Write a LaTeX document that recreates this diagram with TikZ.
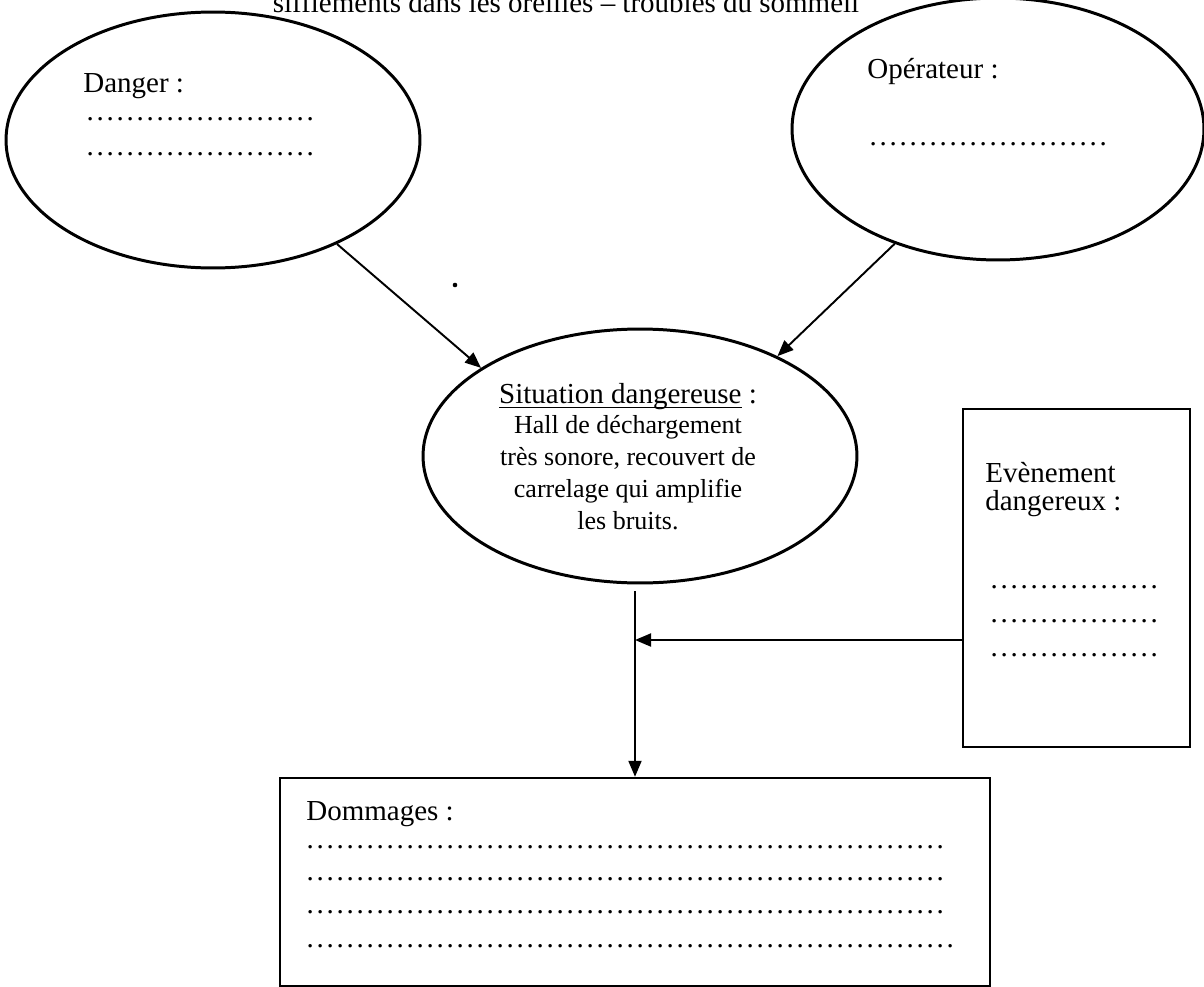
\documentclass[tikz,border=0pt]{standalone}
\usepackage{fontspec}
\setmainfont{Liberation Serif}
\usetikzlibrary{shapes.geometric, arrows.meta, calc}

\newcommand{\pointilles}[1]{\makebox[#1][l]{\leaders\hbox to 0.2cm{\hss.\hss}\hfill}}
\newcommand{\souligne}[1]{{\setbox0\hbox{#1}\rlap{\rule[-2.6pt]{\wd0}{0.7pt}}\box0}}

\begin{document}
\begin{tikzpicture}[x=0.02cm, y=-0.02cm, font=\fontsize{16.5}{20}\selectfont]
	\def\Wd{4.6cm}
	\def\Wo{4.84cm}
	\def\We{3.42cm}
	\def\Wm{12.86cm}
	\tikzset{
		bulle/.style={ellipse, draw, line width=1.7pt, inner sep=0pt},
		cadre/.style={rectangle, draw, line width=1.4pt, inner sep=0pt},
		fleche/.style={line width=1.1pt, -{Triangle[length=0.32cm, width=0.26cm]}},
		txt/.style={anchor=base west, inner sep=0pt}
	}
	\useasboundingbox (0,0) rectangle (1204,987);
	\clip (0,0) rectangle (1204,987);

	\node[anchor=base, inner sep=0pt] (titre) at (566,12) {sifflements dans les oreilles – troubles du sommeil};

	\node[bulle, minimum width=8.28cm, minimum height=5.12cm] (danger) at (213,140) {};
	\node[bulle, minimum width=8.24cm, minimum height=5.24cm] (operateur) at (998,129) {};
	\node[bulle, minimum width=8.68cm, minimum height=5.08cm] (situation) at (640,456) {};
	\node[cadre, minimum width=4.54cm, minimum height=6.76cm] (evenement) at (1076.5,578) {};
	\node[cadre, minimum width=14.2cm, minimum height=4.16cm] (dommages) at (635,882) {};

	\node[txt] (dangerT) at (83,92) {Danger :};
	\node[txt] (dangerA) at (85,120) {\pointilles{\Wd}};
	\node[txt] (dangerB) at (85,155) {\pointilles{\Wd}};

	\node[txt] (operateurT) at (867,78) {Opérateur :};
	\node[txt] (operateurA) at (868,145) {\pointilles{\Wo}};

	\node[anchor=north, align=center, inner sep=0pt, font=\fontsize{14.8}{18.2}\selectfont] (situationT) at (628,383)
		{{\fontsize{16.5}{20}\selectfont\souligne{Situation dangereuse} :}\\[-1pt]
		Hall de déchargement\\ très sonore, recouvert de\\ carrelage qui amplifie\\ les bruits.};

	\node[txt] (evenementT) at (985,482) {Evènement};
	\node[txt] (evenementU) at (985,510) {dangereux :};
	\node[txt] (evenementA) at (989,588) {\pointilles{\We}};
	\node[txt] (evenementB) at (989,622) {\pointilles{\We}};
	\node[txt] (evenementC) at (989,656) {\pointilles{\We}};

	\node[txt] (dommagesT) at (306,820) {Dommages :};
	\node[txt] (dommagesA) at (305,848) {\pointilles{\Wm}};
	\node[txt] (dommagesB) at (305,880) {\pointilles{\Wm}};
	\node[txt] (dommagesC) at (305,913) {\pointilles{\Wm}};
	\node[txt] (dommagesD) at (305,947) {\pointilles{13.06cm}};

	\coordinate (jonction) at (dommages.north |- 0,640);

	\draw[fleche] (danger.-40) -- (situation.151);
	\draw[fleche] (operateur.-132) -- (situation.36);
	\draw[fleche] ($(situation.south -| dommages.north)+(0,7)$) -- (dommages.north);
	\draw[fleche] (jonction -| evenement.west) -- (jonction);

	\fill (455,285) circle (1.3pt);
\end{tikzpicture}
\end{document}
